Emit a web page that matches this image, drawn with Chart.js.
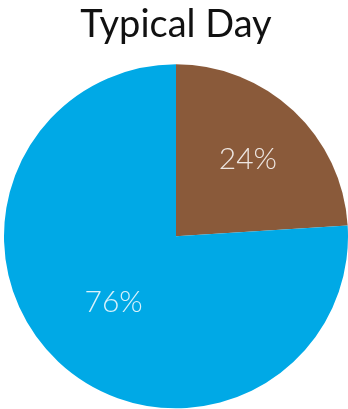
<!DOCTYPE html>
<html>
<head>
<meta charset="utf-8">
<script src="https://cdn.jsdelivr.net/npm/chart.js@4"></script>
<style>
  html, body { margin: 0; padding: 0; background: #fff; }
  #chartBox { width: 348px; height: 409px; }
</style>
</head>
<body>
<div id="chartBox">
  <canvas id="dayChart"></canvas>
</div>
<script>
const chartTitle = "Typical Day";
const sliceNames = ["Other", "Main"];
const sliceValues = [24, 76];
const sliceColors = ["#8a5a3a", "#00a9e6"];

// draws "24%" style labels inside each slice
const percentLabels = {
  id: "percentLabels",
  afterDatasetsDraw(chart) {
    const ctx = chart.ctx;
    const meta = chart.getDatasetMeta(0);
    const total = sliceValues.reduce((a, b) => a + b, 0);
    const spread = [0.61, 0.53];
    ctx.save();
    ctx.font = "300 30px Lato";
    ctx.fillStyle = "rgba(255,255,255,0.85)";
    ctx.textAlign = "center";
    ctx.textBaseline = "middle";
    meta.data.forEach((arc, i) => {
      const p = arc.getProps(["x", "y", "startAngle", "endAngle", "outerRadius"], true);
      const mid = (p.startAngle + p.endAngle) / 2;
      const r = p.outerRadius * spread[i];
      const pct = Math.round(sliceValues[i] / total * 100) + "%";
      ctx.fillText(pct, p.x + Math.cos(mid) * r, p.y + Math.sin(mid) * r);
    });
    ctx.restore();
  }
};

new Chart(document.getElementById("dayChart").getContext("2d"), {
  type: "pie",
  data: {
    labels: sliceNames,
    datasets: [{
      data: sliceValues,
      backgroundColor: sliceColors,
      borderWidth: 0,
      hoverOffset: 0
    }]
  },
  options: {
    responsive: true,
    maintainAspectRatio: false,
    animation: false,
    layout: { padding: { left: 4, right: 0, top: 0, bottom: 0 } },
    plugins: {
      legend: { display: false },
      tooltip: { enabled: false },
      title: {
        display: true,
        text: chartTitle,
        color: "#111",
        font: { family: "Lato", size: 38, weight: "normal", lineHeight: 1.2 },
        padding: { top: 2, bottom: 16 }
      }
    }
  },
  plugins: [percentLabels]
});
</script>
</body>
</html>
